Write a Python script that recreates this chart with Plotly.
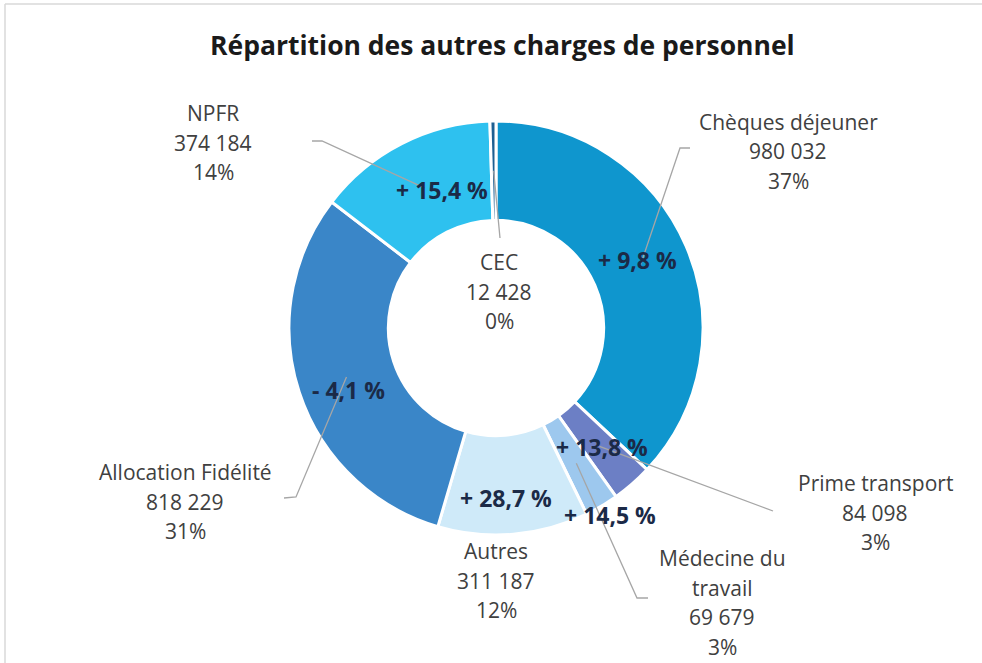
import math
import plotly.graph_objects as go

# ---------------- data ----------------
categories = ["Chèques déjeuner", "Prime transport", "Médecine du travail", "Autres",
              "Allocation Fidélité", "NPFR", "CEC"]
values = [980032, 84098, 69679, 311187, 818229, 374184, 12428]
evolution = ["+ 9,8 %", "+ 13,8 %", "+ 14,5 %", "+ 28,7 %", "- 4,1 %", "+ 15,4 %", ""]
label_names = [["Chèques déjeuner"], ["Prime transport"], ["Médecine du", "travail"], ["Autres"],
               ["Allocation Fidélité"], ["NPFR"], ["CEC"]]
colors = ["#0F96CE", "#6C7FC5", "#9DC8EE", "#CFEAF9", "#3A86C8", "#2EC1EF", "#1E5F91"]
title = "Répartition des autres charges de personnel"

W, H = 982, 663
CX, CY, R = 496, 328, 207
HOLE = 0.52
FONT = "Open Sans"


def px(x):
    return x / W


def py(y):
    return 1 - y / H


total = sum(values)

fig = go.Figure()
fig.add_trace(go.Pie(
    labels=categories, values=values, sort=False, direction="clockwise", rotation=0,
    hole=HOLE, marker=dict(colors=colors, line=dict(color="white", width=3)),
    textinfo="none", hoverinfo="label+value+percent", showlegend=False,
    domain=dict(x=[px(CX - R), px(CX + R)], y=[py(CY + R), py(CY - R)]),
))

# layout positions (pixels)
label_pos = [(788, 122), (875, 483), (722, 558), (496, 551), (185, 472), (213, 113), (499, 262)]
evo_pos = [(637, 260), (602, 447), (610, 515), (506, 498), (348, 390), (442, 190), None]
leader_pts = [[(690, 148), (680, 148)], [(773, 511)], [(648, 598), (637, 598)], None,
              [(284, 498), (296, 497)], [(312, 141), (322, 141)], [(500, 238)]]
LINE_H = 29.5

annotations = []
shapes = []

# ring midpoint of each slice (from data)
cum = 0
mids = []
for v in values:
    a = (cum + v / 2) / total * 2 * math.pi
    cum += v
    rr = R * (1 + HOLE) / 2
    mids.append((CX + rr * math.sin(a), CY - rr * math.cos(a)))

for i in range(len(categories)):
    # leader line
    if leader_pts[i]:
        pts = leader_pts[i] + [mids[i]]
        path = "M " + " L ".join(f"{px(x)},{py(y)}" for x, y in pts)
        shapes.append(dict(type="path", xref="paper", yref="paper", path=path,
                           line=dict(color="#A6A6A6", width=1.3), layer="above"))
    lines = label_names[i] + [f"{values[i]:,}".replace(",", " "),
                              f"{round(100 * values[i] / total)}%"]
    x0, y0 = label_pos[i]
    for k, t in enumerate(lines):
        annotations.append(dict(x=px(x0), y=py(y0 + k * LINE_H), xref="paper", yref="paper",
                                text=t, showarrow=False, xanchor="center", yanchor="middle",
                                font=dict(family=FONT, size=21, color="#404040")))
    if evo_pos[i]:
        ex, ey = evo_pos[i]
        annotations.append(dict(x=px(ex), y=py(ey), xref="paper", yref="paper",
                                text=f"<b>{evolution[i]}</b>", showarrow=False,
                                xanchor="center", yanchor="middle",
                                font=dict(family=FONT, size=23, color="#1B2A47")))

# title
annotations.append(dict(x=px(502), y=py(45), xref="paper", yref="paper",
                        text=f"<b>{title}</b>", showarrow=False, xanchor="center",
                        yanchor="middle", font=dict(family=FONT, size=26.5, color="#1a1a1a")))

# chart border (left and top visible)
shapes.append(dict(type="line", xref="paper", yref="paper", x0=px(5), x1=px(5), y0=py(4), y1=0,
                   line=dict(color="#D9D9D9", width=1.5)))
shapes.append(dict(type="line", xref="paper", yref="paper", x0=px(5), x1=1, y0=py(4), y1=py(4),
                   line=dict(color="#D9D9D9", width=1.5)))

fig.update_layout(width=W, height=H, margin=dict(l=0, r=0, t=0, b=0),
                  paper_bgcolor="white", plot_bgcolor="white",
                  annotations=annotations, shapes=shapes)

fig.write_html("out.html", config={"displayModeBar": False},
               post_script="document.body.style.margin='0';")
